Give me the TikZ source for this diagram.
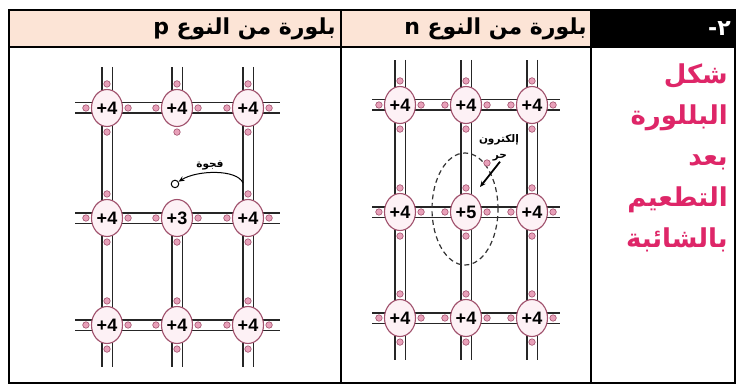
\documentclass[tikz,border=0pt]{standalone}
\usepackage{fontspec}
\setmainfont{DejaVu Sans}
\newfontfamily\arabicfont[Script=Arabic]{DejaVu Sans}
\newfontfamily\chargefont{Liberation Sans}
\TeXXeTstate=1
\usetikzlibrary{positioning,arrows.meta,calc,shapes.geometric,backgrounds}
\definecolor{hdrpeach}{RGB}{252,228,214}
\definecolor{rosetxt}{RGB}{222,38,104}
\definecolor{shellpink}{RGB}{160,80,108}
\definecolor{corefill}{RGB}{253,241,245}
\definecolor{elecpink}{RGB}{232,160,185}
\tikzset{
  every picture/.style={line width=0.6pt},
  atom/.style={draw=shellpink,line width=1.1pt,fill=corefill,ellipse,inner sep=0,
    minimum width=31pt,minimum height=37pt,font=\chargefont\bfseries\fontsize{18}{18}\selectfont},
  bond/.style={draw=black!85,line width=1.7pt,double=white,double distance=9pt},
  elec/.style={circle,draw=shellpink,fill=elecpink,line width=0.6pt,minimum size=6.5pt,inner sep=0},
  hole/.style={circle,draw=black,fill=white,line width=1pt,minimum size=7.5pt,inner sep=0},
  shell/.style={draw=black!80,ellipse,line width=1.2pt,dash pattern=on 5pt off 3.5pt,
    minimum width=66pt,minimum height=112pt,inner sep=0},
  hdr/.style={anchor=east,inner sep=0,font=\arabicfont\bfseries\fontsize{22}{22}\selectfont},
  rowtitle/.style={anchor=east,align=right,inner sep=0,text=rosetxt,
    font=\arabicfont\bfseries\fontsize{26}{41}\selectfont},
  tag/.style={inner sep=0,font=\arabicfont\bfseries\fontsize{10.5}{10.5}\selectfont},
  holearrow/.style={-{Stealth[length=6pt,width=5pt]},line width=1pt},
  freearrow/.style={-{Stealth[length=6pt,width=5pt]},line width=1.8pt},
  grid/.style={line width=1.6pt,draw=black},
}

\begin{document}
\begin{tikzpicture}[x=1pt,y=-1pt]
\useasboundingbox (0,0) rectangle (736,385);
\begin{scope}[on background layer]
  \fill[white] (0,0) rectangle (736,385);
\end{scope}
% header row
\fill[hdrpeach] (9,10) rectangle (591,47);
\fill[black] (591,10) rectangle (736,47);
\node[hdr] (hdrP) at (336,29) {\beginR بلورة من النوع  p\endR};
\node[hdr] (hdrN) at (587,29) {\beginR بلورة من النوع n\endR};
\node[hdr,text=white] (hdrNum) at (731,29) {\beginR ٢-\endR};
% row title
\node[rowtitle] (rowTitle) at (728,158)
  {\beginR شكل\endR\\\beginR البللورة\endR\\\beginR بعد\endR\\\beginR التطعيم\endR\\\beginR بالشائبة\endR};

% p-type crystal
\foreach \r/\y in {1/108,2/218,3/325}{
  \foreach \c/\x in {1/107,2/177,3/248}{
    \node[atom] (p\r\c) at (\x,\y) {\ifnum\r\c=22 +3\else +4\fi};
  }
}
\foreach \r in {1,2,3}{
  \coordinate (pW\r) at ($(p\r1)+(-32,0)$);
  \coordinate (pE\r) at ($(p\r3)+(32,0)$);
  \coordinate (pN\r) at ($(p1\r)+(0,-41)$);
  \coordinate (pS\r) at ($(p3\r)+(0,42)$);
}
\begin{scope}[on background layer]
  \foreach \r in {1,2,3}
    \draw[bond] (pW\r) -- (p\r1.center) -- (p\r2.center) -- (p\r3.center) -- (pE\r);
  \foreach \c in {1,3}
    \draw[bond] (pN\c) -- (p1\c.center) -- (p2\c.center) -- (p3\c.center) -- (pS\c);
  \draw[bond] (pN2) -- (p12.center);
  \draw[bond] (p22.center) -- (p32.center) -- (pS2);
\end{scope}
% valence electrons, none above the +3 atom
\foreach \r in {1,2,3}{
  \foreach \c in {1,2,3}{
    \foreach \k/\a/\sx/\sy in {1/east/5/0,2/west/-5/0,3/north/0/5,4/south/0/-5}{
      \ifnum\r\c\k=223 \else
        \node[elec] (pe\r\c\k) at ([xshift=\sx pt,yshift=\sy pt]p\r\c.\a) {};
      \fi
    }
  }
}
% the hole
\node[hole] (pHole) at ([xshift=-2pt,yshift=15pt]p22.north) {};
\coordinate (pHoleTail) at ([xshift=-5pt,yshift=16pt]p23.north);
\draw[holearrow] (pHoleTail) .. controls +(-6,-14) and +(22,-14) .. (pHole);
\node[tag] (pHoleLbl) at (210,165) {\beginR فجوة\endR};

% n-type crystal
\foreach \r/\y in {1/105,2/212,3/318}{
  \foreach \c/\x in {1/400,2/466,3/532}{
    \node[atom] (n\r\c) at (\x,\y) {\ifnum\r\c=22 +5\else +4\fi};
  }
}
\foreach \r in {1,2,3}{
  \coordinate (nW\r) at ($(n\r1)+(-28,0)$);
  \coordinate (nE\r) at ($(n\r3)+(28,0)$);
  \coordinate (nN\r) at ($(n1\r)+(0,-45)$);
  \coordinate (nS\r) at ($(n3\r)+(0,42)$);
}
\begin{scope}[on background layer]
  \foreach \r in {1,2,3}
    \draw[bond] (nW\r) -- (n\r1.center) -- (n\r2.center) -- (n\r3.center) -- (nE\r);
  \foreach \c in {1,2,3}
    \draw[bond] (nN\c) -- (n1\c.center) -- (n2\c.center) -- (n3\c.center) -- (nS\c);
\end{scope}
\foreach \r in {1,2,3}{
  \foreach \c in {1,2,3}{
    \foreach \k/\a/\sx/\sy in {1/east/5/0,2/west/-5/0,3/north/0/5,4/south/0/-5}{
      \node[elec] (ne\r\c\k) at ([xshift=\sx pt,yshift=\sy pt]n\r\c.\a) {};
    }
  }
}
% fifth electron of the donor
\node[shell] (nShell) at (465,209) {};
\node[elec] (nFree) at (487,163) {};
\node[tag] (nFreeLbl) at (499,140) {\beginR إلكترون\endR};
\node[tag] (nFreeLbl2) at (500,158) {\beginR حر\endR};
\coordinate (nFreeTip) at (480,187);
\draw[freearrow] (nFreeLbl2.south) -- (nFreeTip);

% table rules
\draw[grid] (9,10) rectangle (735,383);
\draw[grid] (9,47) -- (735,47);
\draw[grid] (341,10) -- (341,383);
\draw[grid] (591,10) -- (591,383);
\end{tikzpicture}
\end{document}
